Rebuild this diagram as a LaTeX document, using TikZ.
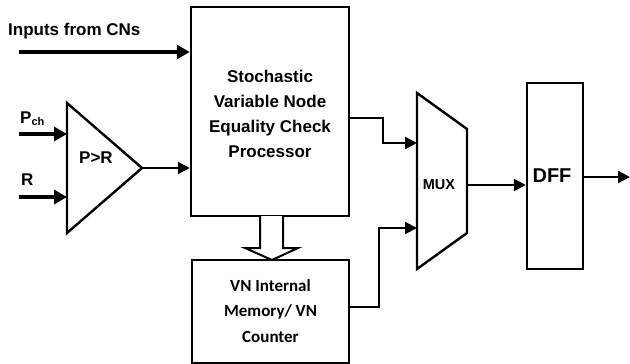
\documentclass[tikz,border=0pt]{standalone}
\usepackage{fontspec}
\setmainfont{Liberation Sans}
\newfontfamily\calfont{Carlito}
\usetikzlibrary{arrows.meta}
\begin{document}
\begin{tikzpicture}[x=1pt,y=-1pt,
  blk/.style={draw=black,line width=2.4pt,rectangle,inner sep=0pt},
  thin/.style={line width=2.4pt,-{Triangle[length=12pt,width=12pt]}},
  thick/.style={line width=4.8pt,-{Triangle[length=13pt,width=14pt]}},
  lbl/.style={font=\fontsize{17}{25}\selectfont\bfseries,inner sep=0pt}
]
\useasboundingbox (0,0) rectangle (630,364);
% blocks
\node[blk,minimum width=158pt,minimum height=209pt] (main) at (270,111.5) {};
\node[blk,minimum width=157pt,minimum height=103pt] (mem) at (270.5,311.5) {};
\node[blk,minimum width=56pt,minimum height=186pt] (dff) at (555,176) {};
% comparator triangle
\coordinate (tA) at (67,103);
\coordinate (tB) at (67,233);
\coordinate (tC) at (142,168);
\draw[line width=2.4pt,line join=miter] (tA) -- (tC) -- (tB) -- cycle;
% mux trapezoid
\coordinate (m1) at (417,93);
\coordinate (m2) at (467,129);
\coordinate (m3) at (467,233);
\coordinate (m4) at (417,269);
\draw[line width=2.4pt,line join=miter] (m1) -- (m2) -- (m3) -- (m4) -- cycle;
% texts
\node[lbl,anchor=base west] (tin) at (8,35) {Inputs from CNs};
\node[lbl,anchor=base west] (tp) at (20,123) {P\raisebox{-2.5pt}{\fontsize{11}{11}\selectfont ch}};
\node[lbl,anchor=base west] (tr) at (21,185) {R};
\node[lbl] (tpr) at (96,158) {P>R};
\node[lbl,align=center] (tmain) at (270,113.5) {Stochastic\\Variable Node\\Equality Check\\Processor};
\node[inner sep=0pt,align=center,font=\calfont\fontsize{17}{25.5}\selectfont\bfseries] (tmem) at (270.5,311) {VN Internal\\Memory/ VN\\Counter};
\node[inner sep=0pt,font=\fontsize{14.5}{15}\selectfont\bfseries] (tmux) at (439,185) {MUX};
\node[inner sep=0pt,font=\fontsize{20}{20}\selectfont\bfseries] (tdff) at (552,176) {DFF};
% input connectors
\coordinate (sIn) at (19,52);
\coordinate (sP) at (19,134);
\coordinate (sR) at (19,197);
\draw[thick] (sIn) -- (sIn -| main.west);
\draw[thick] (sP) -- (sP -| tA);
\draw[thick] (sR) -- (sR -| tA);
\draw[thin] (tC) -- (tC -| main.west);
% main to mux
\coordinate (mo) at (350,118);
\coordinate (mi1) at (417,143);
\draw[thin] (mo -| main.east) -- (383,118) -- (383,143) -- (mi1);
% mem to mux
\coordinate (memo) at (350,307);
\coordinate (mi2) at (417,228);
\draw[thin] (memo -| mem.east) -- (379,307) -- (379,228) -- (mi2);
% mux to dff
\coordinate (mxo) at (467,185);
\draw[thin] (mxo) -- (mxo -| dff.west);
% dff out
\coordinate (dout) at (630,177);
\draw[thin] (dout -| dff.east) -- (dout);
% hollow arrow main -> mem
\draw[line width=2pt,line join=miter,fill=white]
  (260,216) -- (260,248) -- (245,248) -- (272,260) -- (298,248) -- (283,248) -- (283,216);
\end{tikzpicture}
\end{document}
